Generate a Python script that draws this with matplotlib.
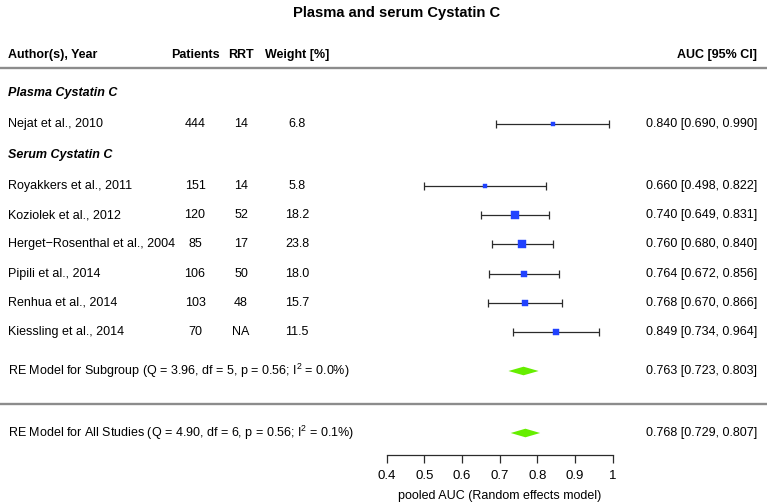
import matplotlib
matplotlib.use('Agg')
import matplotlib.pyplot as plt
import numpy as np

plt.rcParams['font.family'] = ['Liberation Sans', 'DejaVu Sans']
plt.rcParams['mathtext.fontset'] = 'custom'
plt.rcParams['mathtext.rm'] = 'Liberation Sans'
plt.rcParams['mathtext.default'] = 'regular'

# study data
authors = ['Nejat et al., 2010', 'Royakkers et al., 2011', 'Koziolek et al., 2012',
           'Herget\u2212Rosenthal et al., 2004', 'Pipili et al., 2014',
           'Renhua et al., 2014', 'Kiessling et al., 2014']
patients = ['444', '151', '120', '85', '106', '103', '70']
rrt = ['14', '14', '52', '17', '50', '48', 'NA']
weights = [6.8, 5.8, 18.2, 23.8, 18.0, 15.7, 11.5]
auc = [0.840, 0.660, 0.740, 0.760, 0.764, 0.768, 0.849]
ci_lo = [0.690, 0.498, 0.649, 0.680, 0.672, 0.670, 0.734]
ci_hi = [0.990, 0.822, 0.831, 0.840, 0.856, 0.866, 0.964]

# pooled estimates: [estimate, lower, upper]
sub_est = [0.763, 0.723, 0.803]
sub_het = ['3.96', '5', '0.56', '0.0']   # Q, df, p, I2
all_est = [0.768, 0.729, 0.807]
all_het = ['4.90', '6', '0.56', '0.1']

xticks = [0.4, 0.5, 0.6, 0.7, 0.8, 0.9, 1.0]
xtick_labels = ['0.4', '0.5', '0.6', '0.7', '0.8', '0.9', '1']

# layout (y in pixels from top)
W, H = 767, 504
x_left, x_right = -0.6257, 1.4088
y_header, y_line1 = 55, 68
y_plasma_lab, y_serum_lab = 93, 155
study_y = [124] + [186 + 29.2 * i for i in range(6)]
y_sub, y_line2, y_all = 371, 404, 433
y_axis = 455

fig = plt.figure(figsize=(W / 100, H / 100), dpi=100)
ax = fig.add_axes([0, 0, 1, 1])
ax.set_xlim(x_left, x_right)
ax.set_ylim(H, 0)
tr = ax.get_yaxis_transform()
fs = 9
line_col = '#2b2b2b'

fig.text(397 / W, 1 - 13 / H, 'Plasma and serum Cystatin C', ha='center', va='center',
         fontsize=10.6, fontweight='bold')

# header
ax.text(8 / W, y_header, 'Author(s), Year', transform=tr, ha='left', va='center', fontsize=fs, fontweight='bold')
ax.text(195 / W, y_header, 'Patients', transform=tr, ha='center', va='center', fontsize=fs, fontweight='bold')
ax.text(241 / W, y_header, 'RRT', transform=tr, ha='center', va='center', fontsize=fs, fontweight='bold')
ax.text(297 / W, y_header, 'Weight [%]', transform=tr, ha='center', va='center', fontsize=fs, fontweight='bold')
ax.text(757 / W, y_header, 'AUC [95% CI]', transform=tr, ha='right', va='center', fontsize=fs, fontweight='bold')
ax.axhline(y_line1, color='#8c8c8c', lw=1.7)
ax.axhline(y_line2, color='#8c8c8c', lw=1.7)

ax.text(8 / W, y_plasma_lab, 'Plasma Cystatin C', transform=tr, ha='left', va='center',
        fontsize=fs, fontweight='bold', fontstyle='italic')
ax.text(8 / W, y_serum_lab, 'Serum Cystatin C', transform=tr, ha='left', va='center',
        fontsize=fs, fontweight='bold', fontstyle='italic')

for i in range(len(authors)):
    y = study_y[i]
    ax.text(8 / W, y, authors[i], transform=tr, ha='left', va='center', fontsize=fs)
    ax.text(195 / W, y, patients[i], transform=tr, ha='center', va='center', fontsize=fs)
    ax.text(241 / W, y, rrt[i], transform=tr, ha='center', va='center', fontsize=fs)
    ax.text(297 / W, y, '%.1f' % weights[i], transform=tr, ha='center', va='center', fontsize=fs)
    ax.text(757 / W, y, '%.3f [%.3f, %.3f]' % (auc[i], ci_lo[i], ci_hi[i]),
            transform=tr, ha='right', va='center', fontsize=fs)
    ax.errorbar(auc[i], y, xerr=[[auc[i] - ci_lo[i]], [ci_hi[i] - auc[i]]], fmt='none',
                ecolor=line_col, elinewidth=0.9, capsize=3, capthick=0.9)
    side = 0.3 * weights[i] + 1.56  # px
    ax.plot(auc[i], y, marker='s', ms=side * 0.72, color='#2142ff', mec='#2142ff', mew=0.3)


def diamond(est, y, label):
    e, lo, hi = est
    ax.fill([lo, e, hi, e], [y, y - 4.3, y, y + 4.3], color='#66ee00', lw=0)
    ax.text(8 / W, y, label, transform=tr, ha='left', va='center', fontsize=fs)
    ax.text(757 / W, y, '%.3f [%.3f, %.3f]' % (e, lo, hi), transform=tr, ha='right', va='center', fontsize=fs)


diamond(sub_est, y_sub, 'RE Model for Subgroup (Q = %s, df = %s, p = %s; $I^2$ = %s%%)' % tuple(sub_het))
diamond(all_est, y_all, 'RE Model for All Studies (Q = %s, df = %s, p = %s; $I^2$ = %s%%)' % tuple(all_het))

# x axis
for s in ['top', 'left', 'right']:
    ax.spines[s].set_visible(False)
ax.spines['bottom'].set_position(('data', y_axis))
ax.spines['bottom'].set_bounds(0.4, 1.0)
ax.spines['bottom'].set_linewidth(0.9)
ax.spines['bottom'].set_color(line_col)
ax.set_xticks(xticks)
ax.set_xticklabels(xtick_labels)
ax.tick_params(axis='x', direction='out', length=5.5, width=0.9, color=line_col, labelsize=9.5, pad=5)
ax.set_yticks([])
ax.text(0.7, 496, 'pooled AUC (Random effects model)', ha='center', va='center', fontsize=fs)

fig.savefig('out.png', dpi=100)
